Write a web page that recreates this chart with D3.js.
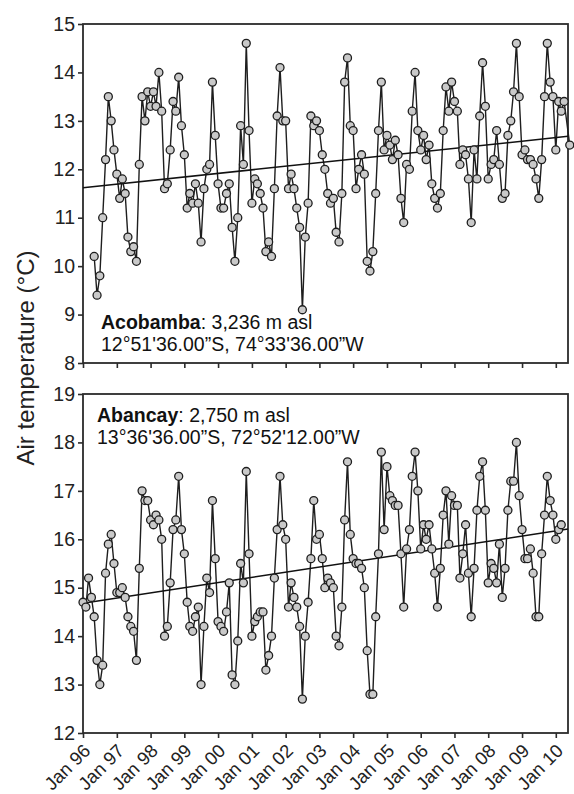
<!DOCTYPE html>
<html>
<head>
<meta charset="utf-8">
<script src="https://cdn.jsdelivr.net/npm/d3@7"></script>
<style>
  body { margin: 0; background: #fff; }
  svg { font-family: "Liberation Sans", Arial, sans-serif; }
</style>
</head>
<body>
<svg width="574" height="794"></svg>
<script>
// monthly mean air temperature
const acobambaStart = new Date(1996, 4, 1)
const acobambaTemp = [
  10.2, 9.4, 9.8, 11.0, 12.2, 13.5, 13.0, 12.4,
  11.9, 11.4, 11.8, 11.5, 10.6, 10.3, 10.4, 10.1, 12.1, 13.5, 13.0, 13.6,
  13.3, 13.6, 13.3, 14.0, 13.2, 11.6, 11.7, 12.4, 13.4, 13.2, 13.9, 12.9,
  12.3, 11.2, 11.5, 11.3, 11.7, 11.3, 10.5, 11.6, 12.0, 12.1, 13.8, 12.7,
  11.7, 11.2, 11.2, 11.5, 11.7, 10.8, 10.1, 11.0, 12.9, 12.1, 14.6, 12.8,
  11.3, 11.8, 11.7, 11.5, 11.2, 10.3, 10.5, 10.2, 11.6, 13.1, 14.1, 13.0,
  13.0, 11.6, 11.9, 11.6, 11.2, 10.8, 9.1, 10.6, 11.3, 13.1, 12.9, 13.0,
  12.8, 12.3, 12.0, 11.5, 11.3, 11.4, 10.7, 10.5, 11.5, 13.8, 14.3, 12.9,
  12.8, 11.6, 12.0, 12.3, 11.9, 10.1, 9.9, 10.3, 11.5, 12.8, 13.8, 12.4,
  12.7, 12.5, 12.2, 12.6, 12.3, 11.4, 10.9, 12.1, 12.0, 13.2, 14.0, 12.8,
  12.4, 12.7, 12.2, 12.5, 11.7, 11.4, 11.2, 11.5, 12.8, 13.7, 13.2, 13.8,
  13.4, 13.2, 12.1, 12.4, 12.3, 11.8, 10.9, 12.4, 11.8, 13.1, 14.2, 13.3,
  11.8, 12.1, 12.2, 12.8, 12.1, 11.4, 11.5, 12.7, 13.0, 13.6, 14.6, 13.5,
  12.3, 12.4, 12.2, 12.2, 12.1, 11.8, 11.4, 12.2, 13.5, 14.6, 13.8, 13.5,
  12.4, 13.4, 13.2, 13.4, null, 12.5
]

const abancayStart = new Date(1996, 0, 1)
const abancayTemp = [
  14.7, 14.6, 15.2, 14.8, 14.4, 13.5, 13.0, 13.4, 15.3, 15.9, 16.1, 15.5,
  14.9, 14.9, 15.0, 14.8, 14.4, 14.2, 14.1, 13.5, 15.4, 17.0, 16.8, 16.8,
  16.4, 16.3, 16.5, 16.4, 16.0, 14.0, 14.2, 15.1, 16.2, 16.4, 17.3, 16.2,
  15.7, 14.7, 14.2, 14.1, 14.4, 14.6, 13.0, 14.2, 15.2, 14.9, 16.8, 15.6,
  14.3, 14.2, 14.1, 14.5, 15.1, 13.2, 13.0, 13.9, 15.5, 15.1, 17.4, 15.7,
  14.0, 14.3, 14.4, 14.5, 14.5, 13.3, 13.6, 14.0, 15.2, 16.2, 17.3, 16.3,
  16.0, 14.6, 15.1, 14.8, 14.6, 14.2, 12.7, 14.0, 14.7, 15.6, 16.8, 16.0,
  16.1, 15.6, 15.0, 15.2, 15.1, 15.0, 14.0, 13.8, 14.6, 16.4, 17.6, 16.1,
  15.6, 15.5, 15.5, 15.4, 15.0, 13.7, 12.8, 12.8, 14.4, 15.7, 17.8, 16.2,
  17.5, 16.9, 16.8, 16.7, 16.7, 15.7, 14.6, 15.8, 16.2, 17.3, 17.8, 17.0,
  15.8, 16.3, 16.0, 16.3, 15.8, 15.3, 14.6, 15.4, 16.5, 17.0, 15.9, 16.9,
  16.7, 16.7, 15.2, 15.7, 16.3, 15.3, 14.4, 15.4, 16.6, 17.3, 17.6, 16.6,
  15.1, 15.5, 15.4, 15.1, 15.9, 14.8, 15.4, 16.6, 17.2, 17.2, 18.0, 16.9,
  16.2, 15.6, 15.6, 15.8, 15.3, 14.4, 14.4, 15.7, 16.5, 17.3, 16.8, 16.5,
  16.0, 16.2, 16.3
]

// linear trend, value at left and right edge of the plot
const acobambaTrend = [11.62, 12.68]
const abancayTrend = [14.68, 16.21]

const acobambaTicks = [8, 9, 10, 11, 12, 13, 14, 15]
const abancayTicks = [12, 13, 14, 15, 16, 17, 18, 19]
const yearTicks = d3.range(1996, 2011).map(y => new Date(y, 0, 1))

const plotLeft = 83, plotRight = 568
const dateStart = new Date(1996, 0, 1), dateEnd = new Date(2010, 4, 13)

const svg = d3.select("svg")

const x = d3.scaleTime()
    .domain([dateStart, dateEnd])
    .range([plotLeft, plotRight])

function toPoints(start, values) {
    return values.map((v, i) => ({date: d3.timeMonth.offset(start, i), value: v}))
        .filter(d => d.value != null)
}

function drawPanel(opt) {
    const y = d3.scaleLinear()
        .domain([opt.ticks[0], opt.ticks[opt.ticks.length - 1]])
        .range([opt.bottom, opt.top])

    const g = svg.append("g")

    // y axis
    const yAxis = g.append("g")
        .attr("transform", `translate(${plotLeft}, 0)`)
        .call(d3.axisLeft(y).tickValues(opt.ticks).tickFormat(d3.format("d"))
            .tickSize(5).tickSizeOuter(0).tickPadding(3))
    yAxis.select(".domain").remove()
    yAxis.selectAll("line").attr("stroke", "#2b2b2b").attr("stroke-width", 1.6)
    yAxis.selectAll("text").attr("font-size", "19.5px").attr("fill", "#222")

    // x axis
    const xAxis = g.append("g")
        .attr("transform", `translate(0, ${opt.bottom})`)
        .call(d3.axisBottom(x).tickValues(yearTicks).tickSize(5).tickSizeOuter(0)
            .tickFormat(opt.labels ? d3.timeFormat("%b %y") : ""))
    xAxis.select(".domain").remove()
    xAxis.selectAll("line").attr("stroke", "#2b2b2b").attr("stroke-width", 1.6)
    xAxis.selectAll("text")
        .attr("font-size", "18.5px")
        .attr("fill", "#222")
        .attr("text-anchor", "end")
        .attr("x", 0).attr("y", 0).attr("dy", null)
        .attr("transform", "translate(8, 19) rotate(-45)")

    // frame
    g.append("rect")
        .attr("x", plotLeft).attr("y", opt.top)
        .attr("width", plotRight - plotLeft).attr("height", opt.bottom - opt.top)
        .attr("fill", "none").attr("stroke", "#2b2b2b").attr("stroke-width", 1.8)

    const pts = toPoints(opt.start, opt.values)

    const line = d3.line().x(d => x(d.date)).y(d => y(d.value))

    g.append("path")
        .datum(pts)
        .attr("d", line)
        .attr("fill", "none")
        .attr("stroke", "#1e1e1e")
        .attr("stroke-width", 1.4)

    // trend line
    g.append("line")
        .attr("x1", x(dateStart)).attr("y1", y(opt.trend[0]))
        .attr("x2", x(dateEnd)).attr("y2", y(opt.trend[1]))
        .attr("stroke", "#111")
        .attr("stroke-width", 1.5)

    g.selectAll("circle.pt")
        .data(pts)
        .join("circle")
        .attr("class", "pt")
        .attr("cx", d => x(d.date))
        .attr("cy", d => y(d.value))
        .attr("r", 4)
        .attr("fill", "#c9c9c9")
        .attr("stroke", "#1e1e1e")
        .attr("stroke-width", 1.3)

    // station label
    const t1 = g.append("text")
        .attr("x", opt.noteX).attr("y", opt.noteY)
        .attr("font-size", "19.5px").attr("fill", "#111")
    t1.append("tspan").attr("font-weight", "bold").text(opt.name)
    t1.append("tspan").text(opt.elev)
    g.append("text")
        .attr("x", opt.noteX).attr("y", opt.noteY + 22)
        .attr("font-size", "19.5px").attr("fill", "#111")
        .text(opt.coords)
}

drawPanel({
    top: 24, bottom: 363,
    ticks: acobambaTicks,
    start: acobambaStart, values: acobambaTemp, trend: acobambaTrend,
    labels: false,
    name: "Acobamba", elev: ": 3,236 m asl",
    coords: "12°51'36.00”S, 74°33'36.00”W",
    noteX: 101, noteY: 329
})

drawPanel({
    top: 394, bottom: 733,
    ticks: abancayTicks,
    start: abancayStart, values: abancayTemp, trend: abancayTrend,
    labels: true,
    name: "Abancay", elev: ": 2,750 m asl",
    coords: "13°36'36.00”S, 72°52'12.00”W",
    noteX: 97, noteY: 422
})

// Y label
svg.append("text")
    .attr("x", -358)
    .attr("y", 34)
    .attr("font-size", "24px")
    .attr("fill", "#222")
    .attr("text-anchor", "middle")
    .attr("transform", "rotate(-90)")
    .text("Air temperature (°C)")
</script>
</body>
</html>
